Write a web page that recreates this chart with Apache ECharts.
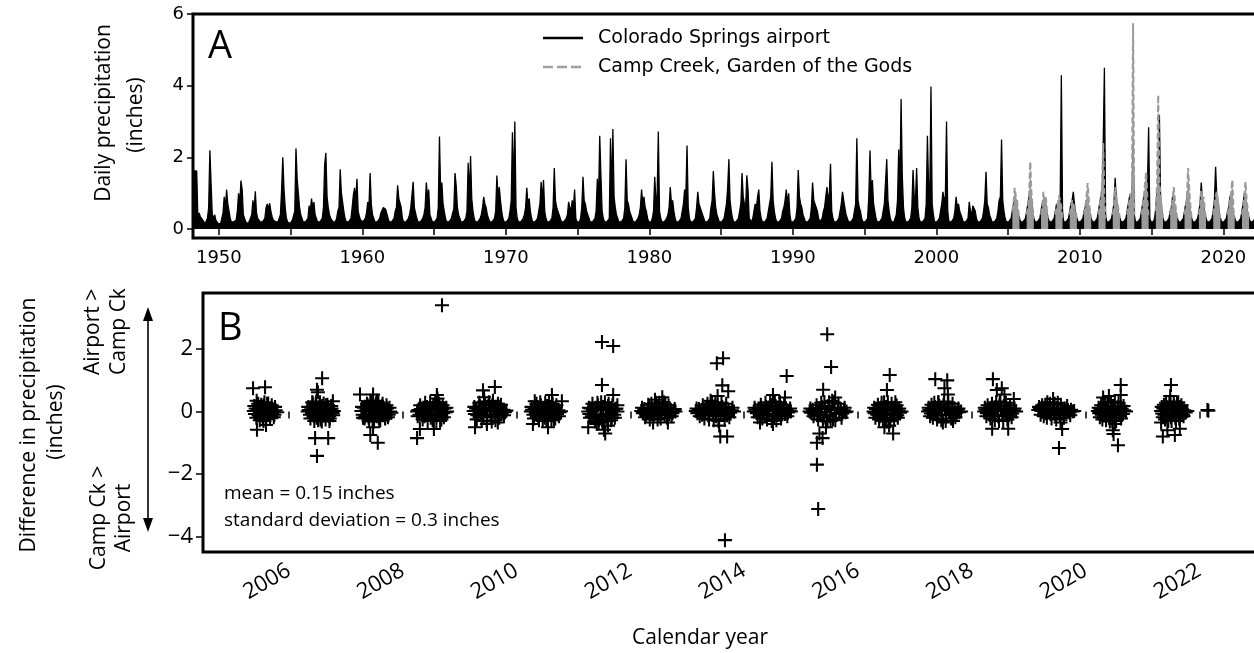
<!DOCTYPE html>
<html>
<head>
<meta charset="utf-8">
<script src="https://cdn.jsdelivr.net/npm/echarts@6/dist/echarts.min.js"></script>
<style>
  html, body { margin: 0; padding: 0; background: #fff; }
  #chart { width: 1254px; height: 653px; }
</style>
</head>
<body>
<div id="chart"></div>
<script>
// ---------- Panel A: largest daily precipitation in each month (inches) ----------
const airportFirstYear = 1948;
const airportMonthlyMax = [
  [0.2,0.25,0.3,1.62,1.6,1.62,0.3,0.45,0.35,0.3,0.25,0.2],   // 1948
  [0.15,0.2,0.3,0.6,2.2,2.18,0.4,0.3,0.4,0.25,0.2,0.15],
  [0.2,0.15,0.3,0.45,0.9,0.6,1.1,0.7,0.5,0.3,0.2,0.2],       // 1950
  [0.2,0.2,0.25,0.5,1.0,0.7,1.35,1.1,0.4,0.35,0.2,0.15],
  [0.15,0.2,0.3,0.4,0.8,0.5,1.05,0.45,0.3,0.25,0.2,0.15],
  [0.2,0.15,0.3,0.6,0.7,0.55,0.72,0.5,0.35,0.25,0.2,0.2],
  [0.2,0.2,0.25,0.4,1.1,2.0,1.1,0.6,0.3,0.2,0.2,0.15],
  [0.2,0.25,0.3,0.5,2.25,1.4,1.0,0.6,0.4,0.3,0.2,0.2],
  [0.2,0.2,0.3,0.65,0.5,0.85,0.6,0.75,0.4,0.3,0.2,0.15],
  [0.2,0.2,0.3,0.6,1.8,2.13,0.9,0.6,0.4,0.3,0.25,0.2],
  [0.2,0.2,0.3,0.5,0.6,1.67,1.0,0.95,0.5,0.3,0.2,0.2],
  [0.2,0.25,0.3,0.6,0.95,1.15,0.8,1.4,0.5,0.35,0.25,0.2],
  [0.2,0.2,0.3,0.45,0.75,0.6,1.56,0.7,0.4,0.3,0.2,0.2],      // 1960
  [0.2,0.2,0.3,0.45,0.5,0.6,0.65,0.55,0.5,0.3,0.2,0.2],
  [0.2,0.2,0.3,0.5,0.6,1.22,0.85,0.8,0.6,0.3,0.2,0.2],
  [0.2,0.2,0.3,0.4,0.6,0.55,1.32,0.6,0.45,0.3,0.2,0.2],
  [0.2,0.2,0.3,0.4,0.6,1.3,0.9,1.1,0.4,0.3,0.2,0.2],
  [0.2,0.2,0.3,0.6,2.58,1.0,1.3,0.7,0.5,0.3,0.2,0.2],
  [0.2,0.2,0.3,0.45,0.55,1.56,1.2,0.6,0.4,0.3,0.2,0.2],
  [0.2,0.2,0.3,0.5,1.85,0.9,2.04,0.85,0.5,0.3,0.2,0.2],
  [0.2,0.2,0.3,0.4,0.6,0.9,0.7,0.6,0.4,0.3,0.2,0.2],
  [0.2,0.2,0.3,0.5,1.49,0.9,1.17,0.8,0.5,0.3,0.2,0.2],
  [0.2,0.2,0.3,0.5,0.8,2.7,1.0,3.0,0.6,0.3,0.2,0.2],        // 1970
  [0.2,0.2,0.3,0.4,0.6,1.15,0.7,0.85,0.5,0.3,0.2,0.2],
  [0.2,0.2,0.3,0.5,0.7,1.32,0.8,1.37,0.5,0.3,0.2,0.2],
  [0.2,0.2,0.3,0.6,1.7,0.8,0.6,0.5,0.4,0.3,0.2,0.2],
  [0.2,0.2,0.3,0.4,0.76,0.6,0.5,0.8,0.6,1.1,0.3,0.2],
  [0.2,0.2,0.3,0.6,1.46,0.8,0.7,0.5,0.4,0.3,0.2,0.2],
  [0.2,0.2,0.3,0.5,1.4,0.8,2.6,1.5,0.5,0.3,0.2,0.2],
  [0.2,0.2,0.3,2.53,1.0,2.79,0.9,0.6,0.4,0.3,0.2,0.2],
  [0.2,0.2,0.3,0.6,1.95,0.8,0.7,0.5,0.4,0.3,0.2,0.2],
  [0.2,0.2,0.3,0.4,0.6,1.1,0.7,0.9,0.6,0.5,0.3,0.2],
  [0.2,0.2,0.3,0.5,1.46,0.8,0.9,2.72,0.5,0.3,0.2,0.2],      // 1980
  [0.2,0.2,0.3,0.4,0.6,1.17,0.7,0.8,0.5,0.3,0.2,0.2],
  [0.2,0.2,0.3,0.5,0.7,1.1,0.9,2.33,0.6,0.3,0.2,0.2],
  [0.2,0.2,0.3,0.6,1.04,0.7,0.6,0.5,0.4,0.3,0.2,0.2],
  [0.2,0.2,0.3,0.6,0.8,1.62,1.0,0.6,0.4,0.3,0.2,0.2],
  [0.2,0.2,0.3,0.5,0.7,1.17,1.95,0.8,0.5,0.3,0.2,0.2],
  [0.2,0.2,0.3,0.5,0.7,1.56,0.9,0.7,0.6,1.5,1.1,0.3],
  [0.3,0.2,0.3,0.5,0.7,0.6,0.9,1.1,0.5,0.3,0.2,0.2],
  [0.2,0.2,0.3,0.5,0.7,0.9,1.88,0.8,0.5,0.3,0.2,0.2],
  [0.2,0.2,0.3,0.5,0.6,0.8,1.1,0.7,1.0,0.4,0.2,0.2],
  [0.2,0.2,0.3,0.6,1.65,0.9,0.7,0.6,0.4,0.3,0.2,0.2],       // 1990
  [0.2,0.2,0.3,0.6,1.3,0.8,0.7,0.6,0.5,0.3,0.2,0.2],
  [0.3,0.5,0.6,0.9,1.17,0.8,1.0,1.82,0.5,0.3,0.2,0.2],
  [0.2,0.2,0.3,0.5,0.7,1.04,0.8,0.6,0.4,0.3,0.2,0.2],
  [0.2,0.2,0.3,0.5,0.7,2.53,0.8,0.6,0.5,0.3,0.2,0.2],
  [0.2,0.2,0.3,0.9,2.19,1.0,1.37,0.7,0.5,0.3,0.2,0.2],
  [0.2,0.2,0.3,0.5,0.7,1.32,1.95,0.8,0.5,0.3,0.2,0.2],
  [0.2,0.2,0.4,0.8,2.22,1.2,3.63,1.5,0.6,0.3,0.2,0.2],
  [0.2,0.2,0.3,0.6,1.65,0.9,0.8,1.7,0.6,0.3,0.2,0.2],
  [0.2,0.2,0.3,0.7,2.6,1.2,1.0,3.98,0.7,0.4,0.2,0.2],
  [0.2,0.2,0.3,0.5,0.7,1.04,0.8,0.9,3.0,0.5,0.2,0.2],       // 2000
  [0.2,0.2,0.3,0.5,0.9,0.6,0.7,0.5,0.4,0.3,0.2,0.2],
  [0.2,0.2,0.3,0.76,0.5,0.4,0.65,0.62,0.5,0.3,0.2,0.2],
  [0.2,0.2,0.3,0.5,0.8,1.6,0.7,0.6,0.4,0.3,0.2,0.2],
  [0.2,0.2,0.3,0.5,0.8,0.9,2.5,0.8,0.5,0.3,0.2,0.2],
  [0.2,0.2,0.3,0.5,0.7,0.9,0.8,0.6,0.4,0.3,0.2,0.2],
  [0.2,0.2,0.3,0.5,0.7,0.9,1.0,0.8,0.4,0.3,0.2,0.2],
  [0.2,0.2,0.3,0.5,0.7,0.8,0.6,0.7,0.4,0.3,0.2,0.2],
  [0.2,0.2,0.3,0.5,0.7,0.6,0.8,0.7,4.29,0.5,0.2,0.2],
  [0.2,0.2,0.3,0.5,0.7,0.8,1.04,0.7,0.4,0.3,0.2,0.2],
  [0.2,0.2,0.3,0.5,0.6,0.8,0.7,0.6,0.4,0.3,0.2,0.2],        // 2010
  [0.2,0.2,0.3,0.5,0.7,0.9,0.8,2.33,4.5,0.4,0.2,0.2],
  [0.2,0.2,0.3,0.5,0.7,1.43,0.8,0.6,0.4,0.3,0.2,0.2],
  [0.2,0.2,0.3,0.5,0.7,0.9,1.0,0.8,2.4,0.4,0.2,0.2],
  [0.2,0.2,0.3,0.5,0.7,0.9,1.0,0.8,1.2,2.84,0.3,0.2],
  [0.2,0.2,0.3,0.6,1.0,1.2,3.18,0.8,0.5,0.3,0.2,0.2],
  [0.2,0.2,0.3,0.5,0.6,0.9,0.8,0.6,0.4,0.3,0.2,0.2],
  [0.2,0.2,0.3,0.5,0.7,0.8,1.04,0.7,0.4,0.3,0.2,0.2],
  [0.2,0.2,0.3,0.5,0.7,1.3,0.8,0.7,0.4,0.3,0.2,0.2],
  [0.2,0.2,0.3,0.5,0.8,1.74,0.9,0.7,0.4,0.3,0.2,0.2],
  [0.2,0.2,0.3,0.5,0.6,0.9,0.7,0.6,0.4,0.3,0.2,0.2],        // 2020
  [0.2,0.2,0.3,0.5,0.7,1.0,0.8,0.6,0.4,0.3,0.2,0.2],
  [0.2,0.2,0.3,0.4]                                          // 2022 (Jan-Apr)
];

// Camp Creek gauge runs April through October
const campCreekFirstYear = 2005;
const campCreekSeasonMonths = [3,4,5,6,7,8,9];
const campCreekSeasonMax = [
  [0.5,0.7,1.15,0.9,0.8,0.5,0.3],   // 2005
  [0.4,0.6,0.9,1.88,1.0,0.6,0.3],
  [0.4,0.6,1.04,0.8,0.9,0.5,0.3],
  [0.4,0.6,0.7,0.93,0.8,0.6,0.3],
  [0.4,0.6,0.8,0.7,0.75,0.5,0.3],
  [0.4,0.6,0.9,1.28,0.8,0.5,0.3],   // 2010
  [0.4,0.6,0.9,1.2,2.4,0.8,0.3],
  [0.4,0.6,1.17,0.9,0.7,0.5,0.3],
  [0.4,0.6,0.8,1.0,0.9,5.74,0.4],
  [0.4,0.6,0.9,1.3,1.6,0.8,0.3],
  [0.5,1.2,3.74,1.3,0.9,0.6,0.3],   // 2015
  [0.4,0.6,0.8,1.17,0.8,0.5,0.3],
  [0.4,0.6,0.9,1.7,1.1,0.6,0.3],
  [0.4,0.6,1.1,0.8,0.9,0.5,0.3],
  [0.4,0.6,0.9,1.04,0.8,0.5,0.3],
  [0.4,0.6,0.9,1.0,1.37,0.5,0.3],   // 2020
  [0.4,0.6,0.9,1.32,0.8,0.5,0.3]
];

// ---------- Panel B: airport minus Camp Creek, [day of year, inches] ----------
const diffYears = [2005,2006,2007,2008,2009,2010,2011,2012,2013,2014,2015,2016,2017,2018,2019,2020,2021,2022];
const diff2005 = [[135,0.75],[212,0.78],[158,0.35],[160,-0.58],[218,-0.43],[140,0.02],[147,-0.08],[152,0.1],[165,0.05],[170,-0.12],[175,0.15],[180,0.0],[185,-0.05],[190,0.12],[195,-0.15],[200,0.05],[205,0.2],[210,-0.1],[214,0.08],[222,0.0],[228,0.14],[234,-0.08],[240,0.05],[246,-0.12],[252,0.1],[258,-0.05],[265,0.02],[272,-0.1],[280,0.04],[290,-0.02],[198,-0.25],[225,0.25],
  [143,0.18],[156,-0.2],[168,0.25],[178,-0.28],[188,0.22],[202,-0.3],[208,0.3],[220,-0.22],[232,0.26],[244,-0.2],[255,0.2],[268,-0.18],[276,0.15],[183,0.05],[193,-0.02]];
const diff2006 = [[213,1.07],[180,0.7],[186,0.62],[282,0.33],[168,-0.85],[252,-0.85],[180,-1.42],[150,0.3],[260,-0.3],[120,0.0],[128,0.05],[135,-0.1],[142,0.12],[148,-0.05],[155,0.2],[160,-0.15],[166,0.08],[172,0.25],[178,-0.2],[184,0.1],[190,-0.08],[196,0.15],[202,-0.25],[208,0.05],[214,0.18],[220,-0.12],[226,0.1],[232,-0.05],[238,0.2],[244,-0.1],[250,0.08],[258,-0.15],[266,0.05],[274,0.1],[280,-0.05],[288,0.02],
  [124,0.15],[138,-0.22],[152,0.28],[163,-0.3],[175,0.32],[187,-0.28],[199,0.3],[211,-0.32],[223,0.26],[235,-0.25],[247,0.22],[262,-0.22],[271,0.18],[284,-0.12],[205,0.0]];
const diff2007 = [[91,0.55],[175,0.55],[157,0.35],[200,0.35],[175,-0.5],[157,-0.75],[205,-1.0],[215,-0.3],[110,-0.2],[100,0.02],[108,-0.1],[115,0.12],[125,-0.15],[132,0.05],[140,0.2],[146,-0.2],[152,0.08],[158,-0.1],[165,0.15],[172,-0.25],[178,0.1],[185,-0.05],[192,0.22],[198,-0.15],[205,0.05],[212,-0.2],[218,0.12],[225,-0.08],[232,0.18],[240,-0.12],[248,0.05],[256,-0.05],[265,0.1],[275,-0.1],[284,0.0],[292,-0.04],
  [104,0.15],[120,-0.22],[136,0.25],[150,-0.3],[162,0.3],[181,-0.32],[195,0.28],[209,0.3],[221,-0.28],[236,0.25],[252,-0.22],[261,0.2],[270,-0.18],[280,0.12],[188,0.02]];
const diff2008 = [[252,3.41],[219,0.53],[223,0.42],[228,0.3],[92,-0.85],[110,-0.56],[200,-0.56],[240,-0.3],[92,0.0],[100,0.05],[108,-0.1],[116,0.08],[124,-0.05],[132,0.12],[140,-0.15],[148,0.05],[156,0.15],[164,-0.1],[172,0.08],[180,-0.2],[188,0.1],[196,0.2],[204,-0.08],[212,0.15],[220,-0.12],[228,0.05],[236,0.2],[244,-0.1],[252,0.08],[260,-0.05],[268,0.1],[276,-0.02],[285,0.0],
  [96,-0.15],[112,0.2],[128,-0.25],[144,0.28],[160,-0.3],[176,0.3],[192,-0.28],[208,0.3],[216,-0.3],[232,0.25],[248,-0.25],[256,0.2],[264,-0.18],[280,0.12],[184,0.0]];
const diff2009 = [[226,0.79],[150,0.68],[157,0.46],[99,-0.5],[175,-0.4],[245,-0.35],[90,0.02],[98,-0.08],[106,0.1],[114,-0.12],[122,0.05],[130,0.18],[138,-0.05],[146,0.12],[154,-0.18],[162,0.22],[170,0.05],[178,-0.1],[186,0.28],[194,0.1],[202,-0.15],[210,0.2],[218,0.02],[226,-0.12],[234,0.15],[242,0.05],[250,-0.08],[260,0.1],[270,-0.05],[280,0.06],[290,-0.02],[300,0.03],
  [94,0.15],[110,-0.25],[126,0.28],[142,-0.3],[158,0.32],[174,-0.3],[190,0.3],[206,-0.32],[214,0.35],[230,-0.28],[246,0.25],[255,-0.2],[265,0.22],[285,-0.12],[198,0.0]];
const diff2010 = [[227,0.53],[291,0.33],[117,0.33],[105,-0.4],[202,-0.5],[240,-0.25],[92,0.0],[100,0.06],[108,-0.1],[116,0.1],[124,-0.05],[132,0.15],[140,-0.15],[148,0.05],[156,0.2],[164,-0.08],[172,0.12],[180,-0.2],[188,0.08],[196,0.18],[204,-0.1],[212,0.05],[220,0.15],[228,-0.12],[236,0.08],[244,-0.05],[252,0.12],[260,-0.08],[268,0.04],[276,-0.02],[285,0.01],
  [96,0.15],[112,-0.22],[128,0.25],[144,-0.28],[152,0.3],[168,-0.3],[184,0.28],[192,-0.3],[208,0.3],[224,-0.28],[232,0.25],[248,-0.22],[256,0.2],[272,-0.15],[216,0.0]];
const diff2011 = [[183,2.23],[255,2.1],[183,0.85],[255,0.53],[282,0.2],[95,-0.5],[204,-0.7],[196,-0.58],[222,-0.45],[150,-0.4],[95,0.0],[102,-0.08],[110,0.1],[118,-0.15],[126,0.05],[134,-0.2],[142,0.12],[150,-0.1],[158,0.2],[166,-0.25],[174,0.08],[182,-0.12],[190,0.15],[198,-0.3],[206,0.05],[214,-0.15],[222,0.18],[230,-0.08],[238,0.1],[246,-0.2],[254,0.05],[262,-0.1],[270,0.08],[282,0.0],
  [99,0.12],[106,-0.2],[122,0.25],[138,-0.32],[154,0.28],[162,-0.35],[178,0.3],[186,-0.35],[202,0.3],[218,-0.3],[226,0.25],[242,-0.28],[250,0.2],[266,-0.2],[276,0.1]];
const diff2012 = [[205,0.46],[158,0.38],[215,0.3],[146,-0.35],[241,-0.35],[70,0.02],[80,-0.05],[90,0.08],[100,-0.1],[110,0.05],[120,0.12],[130,-0.08],[140,0.1],[150,-0.15],[160,0.05],[170,0.15],[180,-0.1],[190,0.08],[200,-0.05],[210,0.12],[220,-0.12],[230,0.05],[240,0.1],[250,-0.08],[260,0.05],[270,-0.05],[280,0.03],[290,0.0],
  [75,0.12],[95,-0.18],[115,0.22],[125,-0.25],[135,0.25],[145,-0.22],[165,0.28],[175,-0.25],[185,0.28],[195,-0.22],[225,0.22],[235,-0.2],[245,0.2],[265,-0.15],[285,0.08]];
const diff2013 = [[190,1.55],[230,1.71],[225,0.84],[263,0.65],[195,0.5],[212,-0.8],[256,-0.8],[242,-4.12],[150,0.35],[205,-0.45],[55,0.02],[65,-0.05],[75,0.08],[85,0.0],[95,-0.1],[105,0.1],[115,-0.05],[125,0.12],[135,-0.12],[145,0.05],[155,0.18],[165,-0.08],[175,0.1],[185,-0.15],[195,0.2],[205,0.05],[215,-0.1],[225,0.15],[235,-0.05],[245,0.1],[255,-0.12],[265,0.06],[275,-0.04],[287,0.04],[300,0.0],
  [60,0.1],[80,-0.15],[100,0.2],[110,-0.22],[130,0.25],[140,-0.25],[160,0.3],[170,-0.28],[180,0.3],[200,-0.3],[220,0.28],[240,-0.25],[250,0.25],[270,-0.18],[290,0.12]];
const diff2014 = [[273,1.14],[185,0.53],[262,0.45],[102,-0.35],[185,-0.4],[230,0.3],[62,0.0],[72,0.06],[82,-0.05],[92,0.1],[102,-0.1],[112,0.12],[122,0.02],[132,-0.12],[142,0.15],[152,0.05],[162,-0.08],[172,0.2],[182,0.08],[192,-0.15],[202,0.18],[212,0.02],[222,-0.1],[232,0.12],[242,-0.05],[252,0.1],[262,-0.08],[272,0.05],[282,-0.03],[292,0.02],[300,0.0],
  [67,0.12],[87,-0.18],[107,0.22],[117,-0.22],[137,0.28],[147,-0.25],[167,0.3],[177,-0.3],[197,0.32],[207,-0.28],[227,0.28],[237,-0.22],[257,0.22],[277,-0.15],[295,0.1]];
const diff2015 = [[168,2.48],[193,1.43],[142,0.7],[219,0.45],[138,-0.85],[102,-1.0],[102,-1.7],[110,-3.12],[118,-0.7],[160,-0.5],[200,0.35],[55,0.0],[65,-0.04],[75,0.06],[85,-0.08],[95,0.05],[105,-0.12],[115,0.1],[125,-0.05],[135,0.15],[145,-0.2],[155,0.08],[165,-0.1],[175,0.18],[185,-0.15],[195,0.05],[205,-0.25],[215,0.1],[225,-0.08],[235,0.12],[245,-0.05],[255,0.08],[265,-0.06],[275,0.04],[285,-0.02],[292,0.0],
  [60,0.1],[80,-0.15],[100,0.2],[110,-0.25],[130,0.28],[140,-0.3],[150,0.3],[170,-0.32],[180,0.3],[190,-0.3],[210,0.3],[220,-0.28],[240,0.25],[260,-0.2],[280,0.12]];
const diff2016 = [[204,1.17],[186,0.69],[226,-0.7],[170,-0.5],[200,-0.45],[240,0.3],[100,0.0],[108,-0.05],[116,0.08],[124,-0.1],[132,0.05],[140,-0.15],[148,0.12],[156,-0.08],[164,0.05],[172,-0.2],[180,0.15],[188,-0.05],[196,0.1],[204,-0.22],[212,0.05],[220,-0.1],[228,0.12],[236,-0.05],[244,0.08],[252,-0.12],[260,0.03],[270,-0.04],[280,0.0],
  [104,0.12],[112,-0.2],[128,0.22],[136,-0.25],[152,0.28],[160,-0.3],[168,0.3],[184,-0.32],[192,0.3],[208,-0.3],[216,0.25],[232,-0.25],[248,0.2],[256,-0.2],[265,0.1]];
const diff2017 = [[131,1.04],[208,1.0],[190,0.75],[212,0.55],[150,0.3],[245,-0.3],[180,-0.35],[85,0.0],[94,0.05],[103,-0.06],[112,0.1],[121,-0.08],[130,0.15],[139,0.02],[148,-0.1],[157,0.18],[166,0.05],[175,-0.12],[184,0.22],[193,0.08],[202,-0.1],[211,0.15],[220,0.02],[229,-0.08],[238,0.12],[247,-0.05],[256,0.08],[265,-0.04],[275,0.06],[285,-0.02],[297,0.0],
  [89,0.12],[98,-0.15],[107,0.22],[116,-0.2],[125,0.28],[143,-0.25],[152,0.3],[170,-0.28],[188,0.32],[198,-0.3],[215,0.3],[233,-0.22],[242,0.25],[260,-0.18],[280,0.1]];
const diff2018 = [[136,1.04],[161,0.69],[193,0.75],[210,0.55],[270,0.4],[131,-0.55],[234,-0.55],[180,0.3],[80,0.0],[89,0.06],[98,-0.05],[107,0.1],[116,-0.1],[125,0.12],[134,0.03],[143,-0.12],[152,0.15],[161,0.05],[170,-0.15],[179,0.2],[188,0.08],[197,-0.1],[206,0.18],[215,0.02],[224,-0.12],[233,0.1],[242,-0.05],[251,0.08],[260,-0.06],[270,0.04],[285,0.0],
  [84,0.12],[94,-0.15],[102,0.2],[120,-0.22],[130,0.25],[148,-0.28],[157,0.3],[175,-0.3],[184,0.32],[202,-0.3],[219,0.28],[229,-0.25],[246,0.2],[256,-0.18],[275,0.1]];
const diff2019 = [[157,0.4],[215,-0.56],[195,-1.17],[120,0.3],[205,-0.35],[62,0.05],[72,0.08],[82,0.02],[92,0.1],[102,0.05],[112,-0.05],[122,0.12],[132,0.02],[142,-0.08],[152,0.1],[162,0.0],[172,-0.1],[182,0.12],[192,0.05],[202,-0.12],[212,0.08],[222,-0.05],[232,0.1],[242,-0.08],[252,0.05],[262,-0.03],[272,0.06],[282,0.0],[292,0.02],
  [67,0.15],[77,-0.1],[87,0.2],[97,-0.15],[107,0.22],[117,-0.2],[137,0.25],[147,-0.22],[167,0.25],[177,-0.25],[187,0.28],[207,0.22],[227,-0.2],[247,0.18],[267,-0.12]];
const diff2020 = [[226,0.85],[226,0.53],[113,0.45],[150,0.5],[175,-0.6],[180,-0.72],[208,-1.08],[190,-0.4],[80,0.02],[88,-0.05],[96,0.08],[104,-0.1],[112,0.05],[120,0.12],[128,-0.12],[136,0.05],[144,0.15],[152,-0.15],[160,0.08],[168,-0.08],[176,0.18],[184,-0.2],[192,0.1],[200,-0.05],[208,0.12],[216,-0.12],[224,0.05],[232,0.1],[240,-0.08],[248,0.04],[260,0.0],
  [84,0.12],[92,-0.18],[100,0.2],[108,-0.25],[124,0.28],[132,-0.28],[140,0.3],[156,-0.32],[164,0.3],[172,-0.3],[188,0.32],[196,-0.3],[212,0.28],[228,-0.22],[244,0.18]];
const diff2021 = [[183,0.85],[178,0.5],[240,-0.55],[208,-0.75],[131,-0.8],[120,-0.35],[160,-0.6],[230,0.3],[120,0.02],[127,-0.06],[134,0.1],[141,-0.1],[148,0.05],[155,0.15],[162,-0.15],[169,0.08],[176,0.2],[183,-0.18],[190,0.12],[197,-0.08],[204,0.18],[211,-0.2],[218,0.1],[225,0.02],[232,-0.12],[239,0.15],[246,-0.05],[253,0.08],[260,-0.1],[268,0.04],[278,-0.03],[288,0.02],
  [124,0.15],[131,-0.18],[138,0.22],[145,-0.25],[152,0.28],[166,-0.3],[173,0.3],[180,0.32],[187,-0.3],[201,0.3],[215,-0.3],[222,0.28],[236,-0.22],[250,0.2],[264,-0.15]];
const diff2022 = [[52,0.05],[58,0.03]];
const diffByYear = [diff2005,diff2006,diff2007,diff2008,diff2009,diff2010,diff2011,diff2012,diff2013,diff2014,diff2015,diff2016,diff2017,diff2018,diff2019,diff2020,diff2021,diff2022];

// ---------- Axis ticks ----------
const topXTicks = [1950,1955,1960,1965,1970,1975,1980,1985,1990,1995,2000,2005,2010,2015,2020];
const topXLabels = [1950,1960,1970,1980,1990,2000,2010,2020];
const topYTicks = [0,2,4,6];
const bottomXTicks = [2006,2008,2010,2012,2014,2016,2018,2020,2022];
const bottomYTicks = [-4,-2,0,2];

// ---------- Build series data ----------
const airportData = [];
airportMonthlyMax.forEach((row, i) => {
  row.forEach((v, m) => airportData.push([airportFirstYear + i + (m + 0.5) / 12, v]));
});
const campCreekData = [];
campCreekSeasonMax.forEach((row, i) => {
  const yr = campCreekFirstYear + i;
  row.forEach((v, k) => campCreekData.push([yr + (campCreekSeasonMonths[k] + 0.5) / 12, v]));
  campCreekData.push([yr + 0.95, null]);
});
const diffData = [];
diffByYear.forEach((pts, i) => {
  pts.forEach(p => diffData.push([diffYears[i] + p[0] / 365, p[1]]));
});

const SANS = '"Open Sans", "DejaVu Sans", sans-serif';
const DEJAVU = '"DejaVu Sans", sans-serif';
const plain = v => String(v);
const minus = v => String(v).replace('-', '\u2212');
// "+" marker outline
const plusPath = 'path://M6.4,0H8.6V6.4H15V8.6H8.6V15H6.4V8.6H0V6.4H6.4Z';

const chart = echarts.init(document.getElementById('chart'), null, { renderer: 'canvas' });
chart.setOption({
  animation: false,
  backgroundColor: '#fff',
  grid: [
    { left: 193, top: 14, width: 1072, height: 224, outerBoundsMode: 'none', containLabel: false,
      show: true, borderColor: '#000', borderWidth: 3, backgroundColor: 'transparent' },
    { left: 203, top: 293, width: 1062, height: 259, outerBoundsMode: 'none', containLabel: false,
      show: true, borderColor: '#000', borderWidth: 3, backgroundColor: 'transparent' }
  ],
  xAxis: [
    {
      gridIndex: 0, type: 'value', min: 1948.2, max: 2022.9,
      axisLine: { show: false }, splitLine: { show: false },
      axisTick: { show: true, customValues: topXTicks, length: 6, lineStyle: { color: '#000', width: 1.5 } },
      axisLabel: { customValues: topXLabels, formatter: plain, margin: 11, color: '#000', fontFamily: DEJAVU, fontSize: 18 }
    },
    {
      gridIndex: 1, type: 'value', min: 2004.49, max: 2004.49 + 1062 / 56.9,
      axisLine: { show: false }, splitLine: { show: false },
      axisTick: { show: true, customValues: bottomXTicks, length: 7, lineStyle: { color: '#000', width: 1.5 } },
      axisLabel: { customValues: bottomXTicks, formatter: plain, rotate: 30, margin: 17, color: '#000', fontFamily: SANS, fontSize: 22 }
    }
  ],
  yAxis: [
    {
      gridIndex: 0, type: 'value', min: -0.25, max: 6,
      axisLine: { show: false }, splitLine: { show: false },
      axisTick: { show: true, customValues: topYTicks, length: 6, lineStyle: { color: '#000', width: 1.5 } },
      axisLabel: { customValues: topYTicks, formatter: plain, margin: 9, color: '#000', fontFamily: DEJAVU, fontSize: 18 }
    },
    {
      gridIndex: 1, type: 'value', min: -4.5, max: 3.8,
      axisLine: { show: false }, splitLine: { show: false },
      axisTick: { show: true, customValues: bottomYTicks, length: 7, lineStyle: { color: '#000', width: 1.5 } },
      axisLabel: { customValues: bottomYTicks, margin: 10, color: '#000', fontFamily: SANS, fontSize: 22, formatter: minus }
    }
  ],
  series: [
    {
      name: 'Colorado Springs airport', type: 'line', xAxisIndex: 0, yAxisIndex: 0,
      data: airportData, showSymbol: false, clip: true, z: 2,
      lineStyle: { color: '#000', width: 1.3 },
      areaStyle: { color: '#000', opacity: 1, origin: 0 }
    },
    {
      name: 'Camp Creek, Garden of the Gods', type: 'line', xAxisIndex: 0, yAxisIndex: 0,
      data: campCreekData, showSymbol: false, connectNulls: false, clip: true, z: 3,
      lineStyle: { color: '#9a9a9a', width: 2, type: [6, 3] },
      areaStyle: { color: '#9a9a9a', opacity: 1, origin: 0 }
    },
    {
      name: 'Difference', type: 'scatter', xAxisIndex: 1, yAxisIndex: 1,
      data: diffData, symbol: plusPath, symbolSize: 14, z: 4,
      itemStyle: { color: '#000', opacity: 1 }
    }
  ],
  graphic: [
    // legend
    { type: 'line', shape: { x1: 543, y1: 38, x2: 583, y2: 38 }, style: { stroke: '#000', lineWidth: 2.5 }, z: 10 },
    { type: 'line', shape: { x1: 543, y1: 67, x2: 583, y2: 67 }, style: { stroke: '#a0a0a0', lineWidth: 2.5, lineDash: [10, 4] }, z: 10 },
    { type: 'text', x: 598, y: 38, style: { text: 'Colorado Springs airport', font: '19px ' + DEJAVU, fill: '#000', align: 'left', verticalAlign: 'middle' }, z: 10 },
    { type: 'text', x: 598, y: 67, style: { text: 'Camp Creek, Garden of the Gods', font: '19px ' + DEJAVU, fill: '#000', align: 'left', verticalAlign: 'middle' }, z: 10 },
    // panel letters
    { type: 'text', x: 208, y: 47, style: { text: 'A', font: '38px ' + SANS, fill: '#000', align: 'left', verticalAlign: 'middle' }, z: 10 },
    { type: 'text', x: 218, y: 329, style: { text: 'B', font: '38px ' + SANS, fill: '#000', align: 'left', verticalAlign: 'middle' }, z: 10 },
    // axis titles
    { type: 'text', x: 104, y: 113, rotation: Math.PI / 2, style: { text: 'Daily precipitation', font: '21px ' + SANS, fill: '#000', align: 'center', verticalAlign: 'middle' } },
    { type: 'text', x: 136, y: 115, rotation: Math.PI / 2, style: { text: '(inches)', font: '21px ' + SANS, fill: '#000', align: 'center', verticalAlign: 'middle' } },
    { type: 'text', x: 29, y: 425, rotation: Math.PI / 2, style: { text: 'Difference in precipitation', font: '21px ' + SANS, fill: '#000', align: 'center', verticalAlign: 'middle' } },
    { type: 'text', x: 56, y: 422, rotation: Math.PI / 2, style: { text: '(inches)', font: '21px ' + SANS, fill: '#000', align: 'center', verticalAlign: 'middle' } },
    { type: 'text', x: 93, y: 375, rotation: Math.PI / 2, style: { text: 'Airport >', font: '21px ' + SANS, fill: '#000', align: 'left', verticalAlign: 'middle' } },
    { type: 'text', x: 119, y: 375, rotation: Math.PI / 2, style: { text: 'Camp Ck', font: '21px ' + SANS, fill: '#000', align: 'left', verticalAlign: 'middle' } },
    { type: 'text', x: 99, y: 518, rotation: Math.PI / 2, style: { text: 'Camp Ck >', font: '21px ' + SANS, fill: '#000', align: 'center', verticalAlign: 'middle' } },
    { type: 'text', x: 124, y: 518, rotation: Math.PI / 2, style: { text: 'Airport', font: '21px ' + SANS, fill: '#000', align: 'center', verticalAlign: 'middle' } },
    { type: 'text', x: 700, y: 638, style: { text: 'Calendar year', font: '21px ' + SANS, fill: '#000', align: 'center', verticalAlign: 'middle' } },
    // double arrow
    { type: 'line', shape: { x1: 148, y1: 316, x2: 148, y2: 524 }, style: { stroke: '#000', lineWidth: 1.6 } },
    { type: 'polygon', shape: { points: [[148, 307], [143, 321], [153, 321]] }, style: { fill: '#000' } },
    { type: 'polygon', shape: { points: [[148, 532], [143, 518], [153, 518]] }, style: { fill: '#000' } },
    // summary statistics
    { type: 'text', x: 224, y: 494, style: { text: 'mean = 0.15 inches', font: '19px ' + SANS, fill: '#000', align: 'left', verticalAlign: 'middle' }, z: 10 },
    { type: 'text', x: 224, y: 521, style: { text: 'standard deviation = 0.3 inches', font: '19px ' + SANS, fill: '#000', align: 'left', verticalAlign: 'middle' }, z: 10 }
  ]
});
</script>
</body>
</html>
